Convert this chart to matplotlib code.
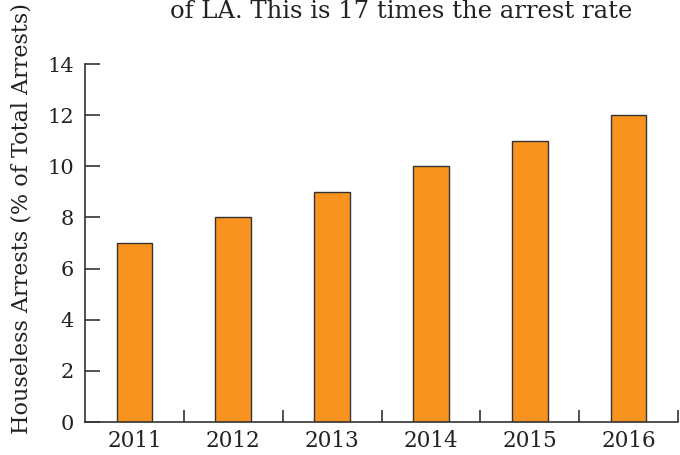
import matplotlib
matplotlib.use("Agg")
import matplotlib.pyplot as plt
import numpy as np

years = ["2011", "2012", "2013", "2014", "2015", "2016"]
arrest_share = [7, 8, 9, 10, 11, 12]
y_ticks = [0, 2, 4, 6, 8, 10, 12, 14]
caption = "of LA. This is 17 times the arrest rate"

plt.rcParams["font.family"] = ["DejaVu Serif"]
ink = "#333333"

fig = plt.figure(figsize=(6.8, 4.55), dpi=100)
ax = fig.add_axes([85 / 680, 1 - 422 / 455, 593 / 680, (422 - 64) / 455])

x = np.arange(len(years))
ax.bar(x, arrest_share, width=0.36, color="#F7931E", edgecolor=ink, linewidth=1.0)

ax.set_xlim(-0.5, len(years) - 0.5)
ax.set_ylim(0, 14)
ax.set_yticks(y_ticks)
ax.set_xticks(x)
ax.set_xticklabels(years)
ax.set_xticks(np.arange(len(years)) + 0.5, minor=True)

for side in ("top", "right"):
    ax.spines[side].set_visible(False)
for side in ("left", "bottom"):
    ax.spines[side].set_color(ink)
    ax.spines[side].set_linewidth(1.2)

ax.tick_params(axis="y", direction="in", length=11, width=1.2, color=ink,
               labelsize=15, pad=8, labelcolor="#222222")
ax.tick_params(axis="x", which="major", length=0, labelsize=15.5, pad=6,
               labelcolor="#222222")
ax.tick_params(axis="x", which="minor", direction="in", length=9, width=1.2,
               color=ink)

fig.text(22 / 680, 1 - 218 / 455, "Houseless Arrests (% of Total Arrests)",
         rotation=90, ha="center", va="center", fontsize=16, color="#222222")
fig.text(170 / 680, 1 - 18 / 455, caption, ha="left", va="baseline",
         fontsize=17.5, color="#222222")

fig.savefig("out.png", dpi=100)
